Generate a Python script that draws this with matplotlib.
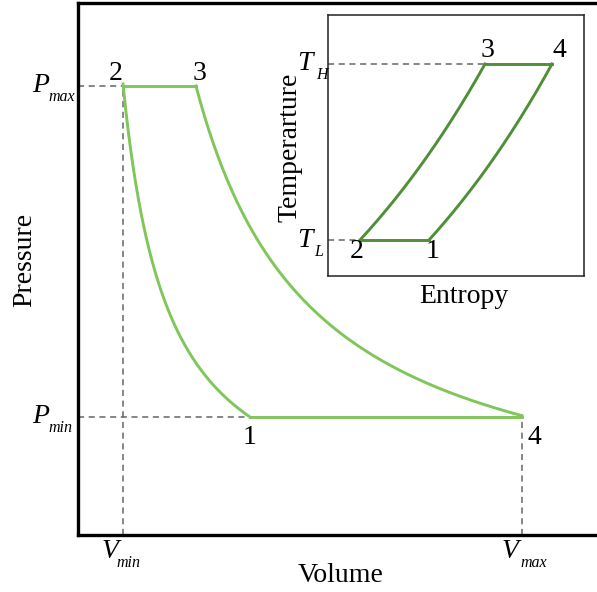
import numpy as np
import matplotlib
matplotlib.use("Agg")
import matplotlib.pyplot as plt

# ---- data (main P-V diagram, arbitrary units) ----
state_labels = ["1", "2", "3", "4"]
V_states = [172.0, 45.0, 118.0, 444.0]   # V1, V2 (Vmin), V3, V4 (Vmax)
P_states = [118.0, 449.0, 449.0, 118.0]  # P1 (Pmin), P2 (Pmax), P3, P4

# ---- data (inset T-s diagram) ----
s_states = [101.0, 32.0, 157.0, 224.0]   # s1, s2, s3, s4
T_states = [36.0, 36.0, 212.0, 212.0]    # TL, TL, TH, TH
k_curv = 0.5

main_green = "#80c65a"
inset_green = "#4e8f38"
dash_col = "#666666"
FONT = "Liberation Serif"

W, H = 597, 592
fig = plt.figure(figsize=(W / 100, H / 100), dpi=100)

# main axes: pixel box x 78..597, y 3..535
ax = fig.add_axes([78 / W, (H - 535) / H, (W - 78) / W, (535 - 3) / H])
ax.set_xlim(0, W - 78)
ax.set_ylim(0, 535 - 3)
ax.set_xticks([]); ax.set_yticks([])
for sp in ["left", "bottom", "top"]:
    ax.spines[sp].set_linewidth(2.4)
ax.spines["right"].set_visible(False)

V1, V2, V3, V4 = V_states
P1, P2, P3, P4 = P_states
LW = 2.1
# isothermal compression 1->2
v12 = np.linspace(V2, V1, 200)
ax.plot(v12, P1 * V1 / v12, color=main_green, lw=LW)
# isobaric 2->3
ax.plot([V2, V3], [P2, P3], color=main_green, lw=LW)
# isothermal expansion 3->4
v34 = np.linspace(V3, V4, 200)
ax.plot(v34, P3 * V3 / v34, color=main_green, lw=LW)
# isobaric 4->1
ax.plot([V1, V4], [P1, P4], color=main_green, lw=LW)

dash = dict(color=dash_col, lw=1.1, linestyle=(0, (4, 3)), zorder=1)
ax.plot([0, V2], [P2, P2], **dash)
ax.plot([V2, V2], [0, P2], **dash)
ax.plot([0, V1], [P1, P1], **dash)
ax.plot([V4, V4], [0, P4], **dash)

def px(x, y):
    return x - 78, 535 - y

fs = 20
sub = 11.5
def t(axis, conv, x, y, s, size=fs, style="normal", ha="left", **kw):
    xx, yy = conv(x, y)
    axis.text(xx, yy, s, fontsize=size, fontfamily=FONT, fontstyle=style,
              ha=ha, va="baseline", clip_on=False, **kw)

# point labels
t(ax, px, 116, 80, "2", ha="center")
t(ax, px, 200, 80, "3", ha="center")
t(ax, px, 250, 444, "1", ha="center")
t(ax, px, 534, 444, "4", ha="center")
# axis symbols
t(ax, px, 32, 92, "P", style="italic")
t(ax, px, 48, 101, "max", size=sub, style="italic")
t(ax, px, 32, 423, "P", style="italic")
t(ax, px, 48, 432, "min", size=sub, style="italic")
t(ax, px, 102, 558, "V", style="italic")
t(ax, px, 116, 567, "min", size=sub, style="italic")
t(ax, px, 502, 558, "V", style="italic")
t(ax, px, 520, 567, "max", size=sub, style="italic")
# axis titles
xx, yy = px(341, 582)
ax.text(xx, yy, "Volume", fontsize=fs, fontfamily=FONT, ha="center", va="baseline", clip_on=False)
xx, yy = px(25, 260)
ax.text(xx, yy, "Pressure", fontsize=fs, fontfamily=FONT, ha="center", va="center",
        rotation=90, clip_on=False)

# ---- inset: pixel box x 328..584, y 15..276 ----
L, R, Tp, B = 328, 584, 15, 276
ins = fig.add_axes([L / W, (H - B) / H, (R - L) / W, (B - Tp) / H])
ins.set_xlim(0, R - L); ins.set_ylim(0, B - Tp)
ins.set_xticks([]); ins.set_yticks([])
for sp in ins.spines.values():
    sp.set_linewidth(1.1)
    sp.set_color("#222222")

s1, s2, s3, s4 = s_states
T1, T2, T3, T4 = T_states

def isobar(sa, sb, Ta, Tb):
    u = np.linspace(0, 1, 200)
    T = Ta + (Tb - Ta) * (np.exp(k_curv * u) - 1) / (np.exp(k_curv) - 1)
    s = sa + (sb - sa) * np.log(1 + (T - Ta) / (Tb - Ta) * (np.exp(k_curv) - 1)) / k_curv
    return s, T

ins.plot([s2, s1], [T2, T1], color=inset_green, lw=LW)
ins.plot([s3, s4], [T3, T4], color=inset_green, lw=LW)
sa, Ta = isobar(s2, s3, T2, T3)
ins.plot(sa, Ta, color=inset_green, lw=LW)
sb, Tb = isobar(s1, s4, T1, T4)
ins.plot(sb, Tb, color=inset_green, lw=LW)
ins.plot([0, s2], [T2, T2], **dash)
ins.plot([0, s3], [T3, T3], **dash)

def ipx(x, y):
    return x - L, B - y

t(ins, ipx, 487, 57, "3", ha="center")
t(ins, ipx, 559, 57, "4", ha="center")
t(ins, ipx, 357, 258, "2", ha="center")
t(ins, ipx, 433, 258, "1", ha="center")
t(ins, ipx, 297, 70, "T", style="italic")
t(ins, ipx, 316, 79, "H", size=sub, style="italic")
t(ins, ipx, 297, 247, "T", style="italic")
t(ins, ipx, 314, 256, "L", size=sub, style="italic")
xx, yy = ipx(464, 303)
ins.text(xx, yy, "Entropy", fontsize=fs, fontfamily=FONT, ha="center", va="baseline", clip_on=False)
xx, yy = ipx(290, 147)
ins.text(xx, yy, "Temperarture", fontsize=fs, fontfamily=FONT, ha="center", va="center",
         rotation=90, clip_on=False)

fig.savefig("out.png", dpi=100)
